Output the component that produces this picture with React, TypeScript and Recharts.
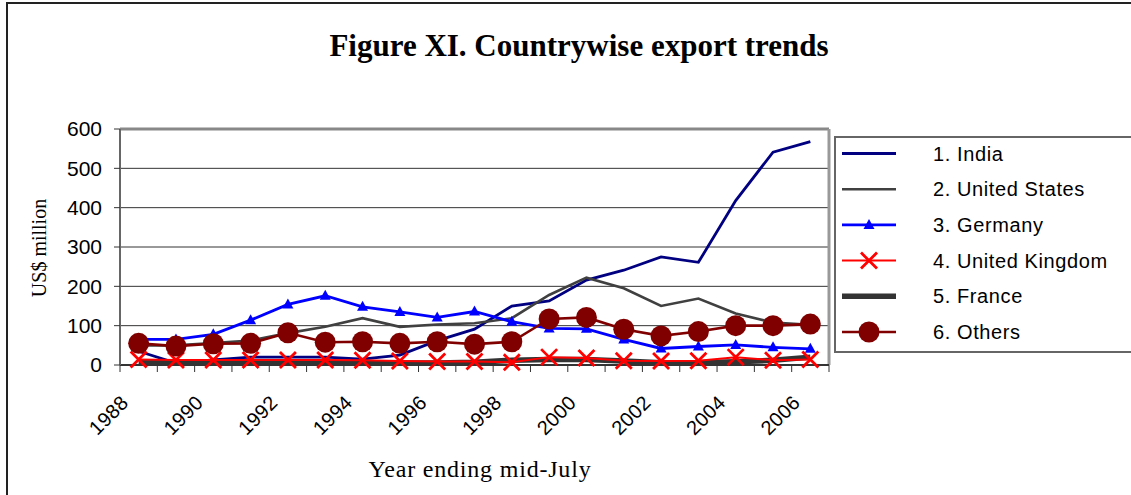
import React from 'react';
import { LineChart, Line, XAxis, YAxis, CartesianGrid, ReferenceLine } from 'recharts';

const YEARS = [1988, 1989, 1990, 1991, 1992, 1993, 1994, 1995, 1996, 1997, 1998, 1999, 2000, 2001, 2002, 2003, 2004, 2005, 2006];

const INDIA = [35, 5, 13, 20, 20, 20, 15, 25, 62, 91, 150, 163, 216, 241, 275, 261, 418, 541, 568];
const UNITED_STATES = [50, 50, 56, 62, 81, 97, 119, 97, 103, 106, 119, 178, 222, 195, 150, 169, 131, 108, 102];
const GERMANY = [65, 65, 78, 114, 154, 176, 148, 135, 121, 136, 110, 93, 92, 65, 42, 47, 51, 45, 41];
const UNITED_KINGDOM = [14, 13, 13, 13, 13, 13, 12, 10, 9, 9, 7, 20, 18, 11, 10, 11, 20, 12, 14];
const FRANCE = [8, 5, 5, 5, 6, 6, 5, 5, 5, 7, 12, 14, 14, 10, 6, 6, 8, 12, 20];
const OTHERS = [55, 48, 54, 55, 82, 58, 59, 55, 59, 53, 59, 117, 121, 91, 74, 85, 100, 100, 104];

const Y_TICKS = [0, 100, 200, 300, 400, 500, 600];

// tick marks sit on the category boundaries, Excel style
const X_TICKS = [...YEARS.map((_, i) => i), YEARS.length];

const data = YEARS.map((year, i) => ({
  year,
  pos: i + 0.5,
  india: INDIA[i],
  us: UNITED_STATES[i],
  germany: GERMANY[i],
  uk: UNITED_KINGDOM[i],
  france: FRANCE[i],
  others: OTHERS[i],
}));

const W = 1131;
const H = 495;
const PLOT_LEFT = 120;
const PLOT_RIGHT = 829;
const PLOT_TOP = 129;
const PLOT_BOTTOM = 365;
const BAND = (PLOT_RIGHT - PLOT_LEFT) / YEARS.length;

const SANS = '"Liberation Sans", Arial, sans-serif';
const SERIF = '"Liberation Serif", "Times New Roman", serif';

const Triangle = ({ cx, cy, color }: { cx: number; cy: number; color: string }) => (
  <path d={`M${cx},${cy - 6} L${cx + 5.5},${cy + 4} L${cx - 5.5},${cy + 4} Z`} fill={color} />
);

const Cross = ({ cx, cy, color }: { cx: number; cy: number; color: string }) => (
  <path d={`M${cx - 8},${cy - 8} L${cx + 8},${cy + 8} M${cx - 8},${cy + 8} L${cx + 8},${cy - 8}`} stroke={color} strokeWidth={2.8} fill="none" />
);

const Dot = ({ cx, cy, color }: { cx: number; cy: number; color: string }) => (
  <circle cx={cx} cy={cy} r={10.5} fill={color} />
);

type SeriesDef = { key: string; name: string; color: string; width: number; marker?: 'tri' | 'x' | 'dot' };

const SERIES: SeriesDef[] = [
  { key: 'india', name: '1. India', color: '#000080', width: 2.8 },
  { key: 'us', name: '2. United States', color: '#404040', width: 2.6 },
  { key: 'germany', name: '3. Germany', color: '#0000ff', width: 2.8, marker: 'tri' },
  { key: 'uk', name: '4. United Kingdom', color: '#ff0000', width: 2, marker: 'x' },
  { key: 'france', name: '5. France', color: '#333333', width: 5.5 },
  { key: 'others', name: '6. Others', color: '#800000', width: 2.6, marker: 'dot' },
];

// draw order: france under the marker series
const DRAW_ORDER = ['india', 'us', 'france', 'germany', 'uk', 'others'];

const renderMarker = (s: SeriesDef) => {
  if (!s.marker) return false;
  return (p: any) => {
    if (p.cx == null || p.cy == null) return <g key={p.index} />;
    if (s.marker === 'tri') return <Triangle key={p.index} cx={p.cx} cy={p.cy} color={s.color} />;
    if (s.marker === 'x') return <Cross key={p.index} cx={p.cx} cy={p.cy} color={s.color} />;
    return <Dot key={p.index} cx={p.cx} cy={p.cy} color={s.color} />;
  };
};

const YearTick = (props: any) => {
  const { x, y, payload } = props;
  const idx = payload.value;
  if (idx % 2 !== 0 || idx >= YEARS.length) return <g />;
  return (
    <text
      x={0}
      y={0}
      transform={`translate(${x + BAND / 2 - 9},${y + 30}) rotate(-45)`}
      textAnchor="end"
      fontSize={20}
      fontFamily={SANS}
      letterSpacing={0.3}
      fill="#000"
    >
      {YEARS[idx]}
    </text>
  );
};

const LegendBox = () => {
  const rowTop = 17.5;
  const step = 35.7;
  return (
    <svg width={300} height={217} style={{ position: 'absolute', left: 834, top: 136 }}>
      <rect x={1} y={1} width={320} height={215} fill="#fff" stroke="#666" strokeWidth={2} />
      {SERIES.map((s, i) => {
        const cy = rowTop + i * step;
        return (
          <g key={s.key}>
            <line x1={8} x2={62} y1={cy} y2={cy} stroke={s.color} strokeWidth={s.width} />
            {s.marker === 'tri' && <Triangle cx={35} cy={cy} color={s.color} />}
            {s.marker === 'x' && <Cross cx={35} cy={cy} color={s.color} />}
            {s.marker === 'dot' && <Dot cx={35} cy={cy} color={s.color} />}
            <text x={99} y={cy} dominantBaseline="central" fontSize={20} fontFamily={SANS} letterSpacing={0.6} fill="#000">
              {s.name}
            </text>
          </g>
        );
      })}
    </svg>
  );
};

export default function App() {
  return (
    <div style={{ position: 'absolute', left: 0, top: 0, width: W, height: H, overflow: 'hidden', background: '#fff' }}>
      <svg width={W} height={H} style={{ position: 'absolute', left: 0, top: 0 }}>
        <rect x={7} y={3} width={1300} height={700} fill="none" stroke="#222" strokeWidth={2} />
        <text x={579} y={56} textAnchor="middle" fontSize={31} fontWeight="bold" fontFamily={SERIF} fill="#000">
          Figure XI. Countrywise export trends
        </text>
        <text
          x={0}
          y={0}
          transform="translate(46,248) rotate(-90)"
          textAnchor="middle"
          fontSize={20}
          fontFamily={SERIF}
          fill="#000"
        >
          US$ million
        </text>
        <text x={480} y={477} textAnchor="middle" fontSize={24} fontFamily={SERIF} letterSpacing={0.8} fill="#000">
          Year ending mid-July
        </text>
      </svg>
      <div style={{ position: 'absolute', left: 0, top: 0 }}>
        <LineChart
          width={W}
          height={H}
          data={data}
          margin={{ top: PLOT_TOP, right: W - PLOT_RIGHT, bottom: 90, left: 0 }}
        >
          <CartesianGrid vertical={false} stroke="#333" strokeWidth={1} />
          <XAxis
            type="number"
            dataKey="pos"
            domain={[0, YEARS.length]}
            ticks={X_TICKS}
            interval={0}
            height={H - PLOT_BOTTOM - 90}
            tick={<YearTick />}
            tickSize={7}
            tickLine={{ stroke: '#333', strokeWidth: 1 }}
            axisLine={{ stroke: '#333', strokeWidth: 2 }}
          />
          <YAxis
            domain={[0, 600]}
            ticks={Y_TICKS}
            interval={0}
            width={PLOT_LEFT}
            tickSize={6}
            tickMargin={12}
            tick={{ fontSize: 21, fill: '#000', fontFamily: SANS }}
            tickLine={{ stroke: '#333', strokeWidth: 1 }}
            axisLine={{ stroke: '#666', strokeWidth: 2 }}
          />
          <ReferenceLine y={600} stroke="#888" strokeWidth={3} />
          <ReferenceLine x={YEARS.length} stroke="#999" strokeWidth={3} />
          {DRAW_ORDER.map((k) => {
            const s = SERIES.find((d) => d.key === k)!;
            return (
              <Line
                key={s.key}
                type="linear"
                dataKey={s.key}
                name={s.name}
                stroke={s.color}
                strokeWidth={s.width}
                dot={renderMarker(s)}
                activeDot={false}
                isAnimationActive={false}
              />
            );
          })}
        </LineChart>
      </div>
      <LegendBox />
    </div>
  );
}
